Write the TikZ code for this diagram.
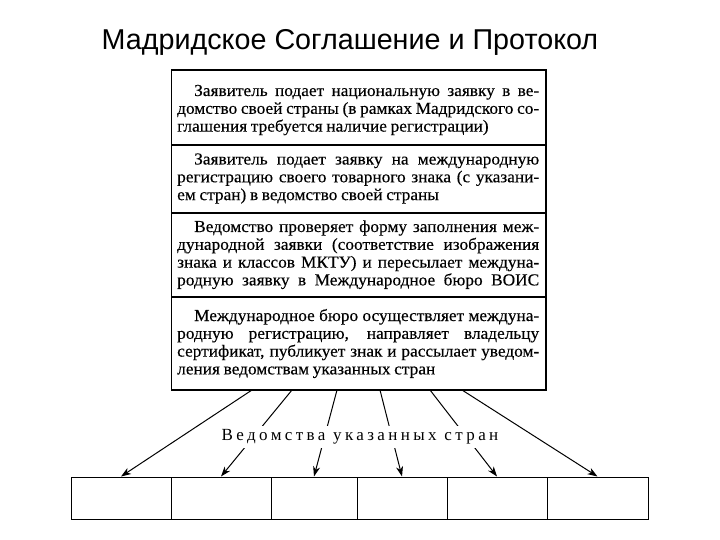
\documentclass[tikz,border=0pt]{standalone}
\usepackage{fontspec}
\setmainfont{Liberation Serif}
\newfontfamily\titlefont{Liberation Sans}
\newfontfamily\bookfont[FakeStretch=1.03, WordSpace=0.85, FakeBold=0.3]{Liberation Serif}
\usetikzlibrary{arrows.meta}

% justified lines of the stage texts (font spaces, not the fixed ones of align=left)
\newcommand{\fontspaces}{\spaceskip=0pt\xspaceskip=0pt\relax}
\newcommand{\fullline}[1]{\makebox[362pt][s]{\fontspaces#1}}
\newcommand{\indentline}[1]{\makebox[362pt][s]{\fontspaces\hspace*{17pt}#1}}
\newcommand{\lastline}[1]{{\fontspaces#1}}

\tikzset{
  stage/.style={draw, line width=1.3pt, rectangle, minimum width=374.5pt, inner sep=0pt},
  stagetext/.style={anchor=base west, text width=362pt, inner sep=0pt, align=left,
    font=\bookfont\fontsize{16.8}{17.8}\selectfont},
  office/.style={draw, line width=1pt, rectangle, minimum height=42pt, inner sep=0pt},
  arrow/.style={line width=1pt, -{Stealth[length=10pt,width=7pt,inset=3pt]}}
}

\begin{document}
\begin{tikzpicture}[x=1pt, y=-1pt]
                            \useasboundingbox (0,0) rectangle (720,540);
                            \node[font=\titlefont\fontsize{28.7}{32}\selectfont] (title) at (350,42) {Мадридское Соглашение и Протокол};

                            \node[stage, minimum height=75pt] (stage1) at (358.75,107.5) {};
                            \node[stage, minimum height=68pt] (stage2) at (358.75,179) {};
                            \node[stage, minimum height=84pt] (stage3) at (358.75,255) {};
                            \node[stage, minimum height=93pt] (stage4) at (358.75,343.5) {};

                            \node[stagetext] (text1) at (177,96)
                              {\indentline{Заявитель подает национальную заявку в ве-}\\
                               \fullline{домство своей страны (в рамках Мадридского со-}\\
                               \lastline{глашения требуется наличие регистрации)}};
                            \node[stagetext] (text2) at (177,164.5)
                              {\indentline{Заявитель подает заявку на международную}\\
                               \fullline{регистрацию своего товарного знака (с указани-}\\
                               \lastline{ем стран) в ведомство своей страны}};
                            \node[stagetext] (text3) at (177,232)
                              {\indentline{Ведомство проверяет форму заполнения меж-}\\
                               \fullline{дународной заявки (соответствие изображения}\\
                               \fullline{знака и классов МКТУ) и пересылает междуна-}\\
                               \fullline{родную заявку в Международное бюро ВОИС}};
                            \node[stagetext] (text4) at (177,321)
                              {\indentline{Международное бюро осуществляет междуна-}\\
                               \fullline{родную регистрацию, направляет владельцу}\\
                               \fullline{сертификат, публикует знак и рассылает уведом-}\\
                               \lastline{ления ведомствам указанных стран}};

                            \node[office, minimum width=100pt] (c1) at (121,498) {};
                            \node[office, minimum width=100pt] (c2) at (221,498) {};
                            \node[office, minimum width=86pt] (c3) at (314,498) {};
                            \node[office, minimum width=90pt] (c4) at (402,498) {};
                            \node[office, minimum width=100pt] (c5) at (497,498) {};
                            \node[office, minimum width=101pt] (c6) at (597.5,498) {};

                            \coordinate (o1) at (252,390);
                            \coordinate (o2) at (292,390);
                            \coordinate (o3) at (337,390);
                            \coordinate (o4) at (380,390);
                            \coordinate (o5) at (430,390);
                            \coordinate (o6) at (462,390);

                            \foreach \i in {1,...,6}
                              \draw[arrow] (o\i) -- (c\i.north);

                            \node[fill=white, inner xsep=2pt, inner ysep=4pt,
                              font=\fontsize{17}{20}\selectfont\addfontfeature{LetterSpace=20}] (offices) at (360,437)
                              {Ведомства указанных стран};
                        \end{tikzpicture}
\end{document}
